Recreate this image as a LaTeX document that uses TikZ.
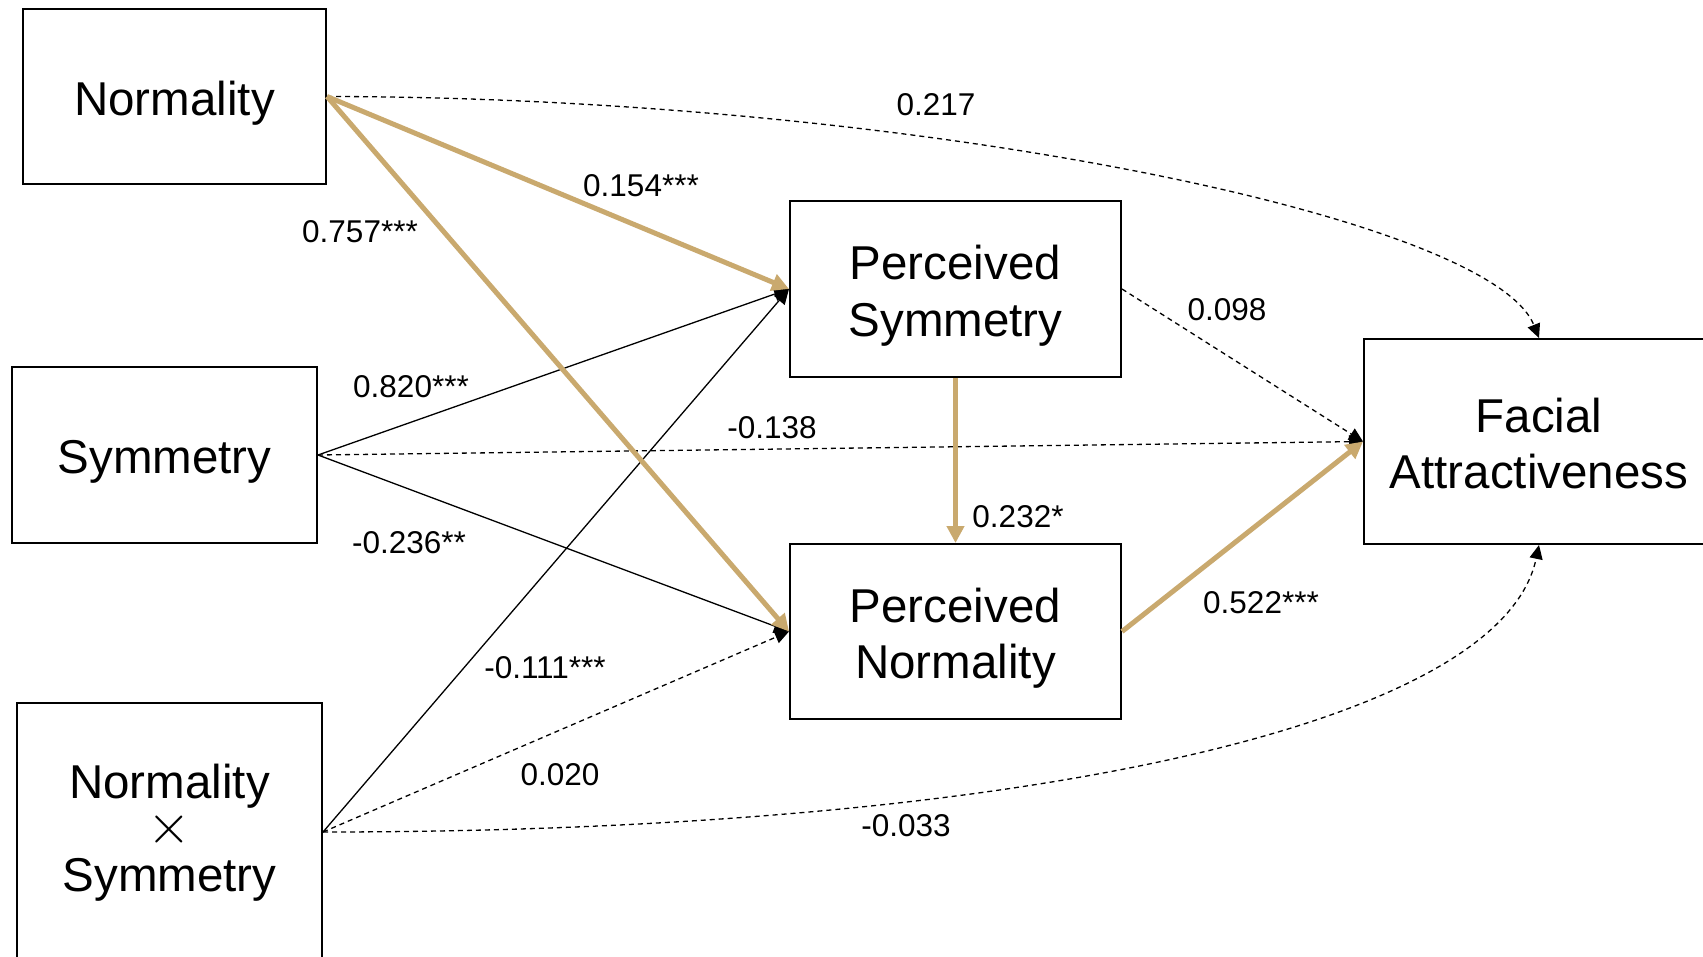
\documentclass[tikz,border=0pt]{standalone}
\usepackage{fontspec}
\setmainfont{Liberation Sans}
\usetikzlibrary{arrows.meta}
\definecolor{gold}{RGB}{201,169,110}
\newcommand{\btext}[2]{\raisebox{-#1pt}[\height][\depth]{\begin{tabular}{@{}c@{}}#2\end{tabular}}}
\newcommand{\bigtimes}{\raisebox{2pt}{\scalebox{5.6}{\fontsize{10}{12}\selectfont$\times$}}}
\tikzset{
  box/.style={draw=black, line width=2pt, inner sep=0pt, align=center,
    font=\fontsize{47.5}{56.5}\selectfont},
  lbl/.style={font=\fontsize{31.5}{36}\selectfont, inner sep=0pt},
  goldarrow/.style={draw=gold, line width=5pt, -{Triangle[length=17pt,width=17pt]}},
  thinarrow/.style={draw=black, line width=1.3pt, -{Triangle[length=15pt,width=14pt]}},
  dasharrow/.style={draw=black, line width=1.3pt, dash pattern=on 5pt off 4pt,
    -{Triangle[length=14pt,width=13pt]}}
}
\begin{document}
\begin{tikzpicture}[x=1pt,y=-1pt]
\useasboundingbox (0,0) rectangle (1703,956);
\node[box, minimum width=303pt, minimum height=175pt] (norm) at (174.5,96.5) {\btext{7.6}{Normality}};
\node[box, minimum width=305pt, minimum height=176pt] (sym) at (164.5,455) {\btext{7.6}{Symmetry}};
\node[box, minimum width=305pt, minimum height=258pt] (nxs) at (169.5,832) {\btext{2}{Normality\\[-10pt]\bigtimes\\[-10pt]Symmetry}};
\node[box, minimum width=331pt, minimum height=176pt] (ps) at (955.5,289) {\btext{7.6}{Perceived\\Symmetry}};
\node[box, minimum width=331pt, minimum height=175pt] (pn) at (955.5,631.5) {\btext{7.6}{Perceived\\Normality}};
\node[box, minimum width=350pt, minimum height=205pt] (fa) at (1539,441.5) {\btext{7.6}{Facial\\Attractiveness}};

% dashed
\draw[dasharrow] (norm.east) .. controls (900,97) and (1490,215) .. (fa.north);
\draw[dasharrow] (nxs.east) .. controls (1000,832) and (1500,730) .. (fa.south);
\draw[dasharrow] (sym.east) -- (fa.west);
\draw[dasharrow] (ps.east) -- (fa.west);
\draw[dasharrow] (nxs.east) -- (pn.west);
% thin solid
\draw[thinarrow] (sym.east) -- (ps.west);
\draw[thinarrow] (sym.east) -- (pn.west);
\draw[thinarrow] (nxs.east) -- (ps.west);
% gold
\draw[goldarrow] (norm.east) -- (ps.west);
\draw[goldarrow] (norm.east) -- (pn.west);
\draw[goldarrow] (ps.south) -- (pn.north);
\draw[goldarrow] (pn.east) -- (fa.west);

% labels
\node[lbl] (l1) at (936,105) {0.217};
\node[lbl] (l2) at (641,186) {0.154***};
\node[lbl] (l3) at (360,232) {0.757***};
\node[lbl] (l4) at (1227,310) {0.098};
\node[lbl] (l5) at (411,387) {0.820***};
\node[lbl] (l6) at (772,428) {-0.138};
\node[lbl] (l7) at (1018,517) {0.232*};
\node[lbl] (l8) at (409,543) {-0.236**};
\node[lbl] (l9) at (1261,603) {0.522***};
\node[lbl] (l10) at (545,668) {-0.111***};
\node[lbl] (l11) at (560,775) {0.020};
\node[lbl] (l12) at (906,826) {-0.033};
\end{tikzpicture}
\end{document}
